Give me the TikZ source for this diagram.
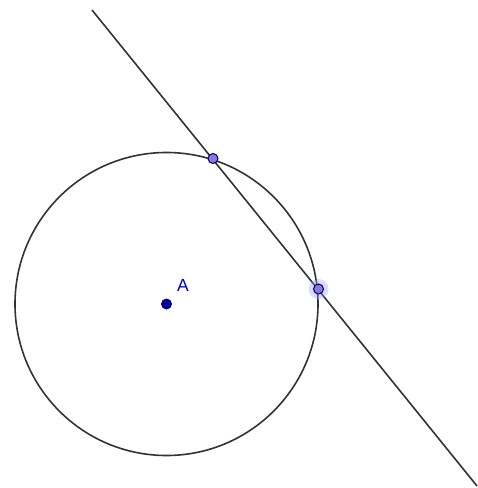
\documentclass[tikz,border=0pt]{standalone}
\usepackage{fontspec}
\setmainfont{Liberation Sans}
\begin{document}
\begin{tikzpicture}[x=1pt,y=-1pt,
  curve/.style={line width=1.6pt, draw=black!80},
  ptfree/.style={circle, inner sep=0pt, minimum size=10pt, fill=blue!50!white!92!red, draw=blue!30!black, line width=1pt},
  ptA/.style={circle, inner sep=0pt, minimum size=11pt, fill=blue!60!black},
  halo/.style={circle, inner sep=0pt, minimum size=20pt, fill=blue!40, opacity=0.35},
  lbl/.style={text=blue!80!black, font=\fontsize{17.5}{17.5}\selectfont, inner sep=0pt}]
\useasboundingbox (0,0) rectangle (478,488);
\fill[white] (0,0) rectangle (478,488);
\coordinate (O) at (166.5,304);
\draw[curve] (O) circle[radius=151.5];
\coordinate (L1) at (92,10);
\coordinate (L2) at (477,486);
\draw[curve] (L1) -- (L2);
\node[halo] (H) at (318.5,289) {};
\node[ptfree] (P1) at (213,158.5) {};
\node[ptfree] (P2) at (318.5,289) {};
\node[ptA] (A) at (O) {};
\node[lbl] (LA) at (183,285.5) {A};
\end{tikzpicture}
\end{document}
